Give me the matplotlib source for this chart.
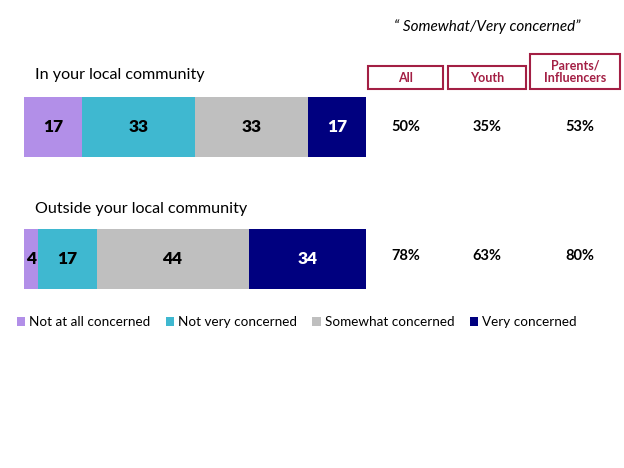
import numpy as np
import matplotlib.pyplot as plt
from matplotlib.patches import Rectangle, Patch

plt.rcParams['font.family'] = ['Lato', 'DejaVu Sans']

# data
rows = ['In your local community', 'Outside your local community']
series = ['Not at all concerned', 'Not very concerned', 'Somewhat concerned', 'Very concerned']
values = [[17, 33, 33, 17],
          [4, 17, 44, 34]]
groups = ['All', 'Youth', 'Parents/\nInfluencers']
concerned = [['50%', '35%', '53%'],
             ['78%', '63%', '80%']]
colors = ['#B28FE8', '#3FB8D0', '#BFBFBF', '#00007F']
label_colors = ['black', 'black', 'black', 'white']

W, H = 624, 468
fig = plt.figure(figsize=(W / 100, H / 100), dpi=100)


def fx(x):
    return x / W


def fy(y):
    return 1 - y / H


ax = fig.add_axes([fx(24), fy(289), fx(366) - fx(24), fy(97) - fy(289)])
vals = np.array(values, dtype=float)
pct = vals / vals.sum(axis=1, keepdims=True) * 100
left = np.zeros(len(rows))
ypos = np.arange(len(rows))
for j, s in enumerate(series):
    ax.barh(ypos, pct[:, j], left=left, height=0.456, color=colors[j], label=s)
    for i in range(len(rows)):
        ax.text(left[i] + pct[i, j] / 2, ypos[i], str(values[i][j]), ha='center', va='center',
                fontsize=12.5, fontweight='heavy', color=label_colors[j])
    left += pct[:, j]
ax.set_xlim(0, 100)
ax.set_ylim(1.228, -0.228)
ax.axis('off')

# row titles
row_title_y = [75, 209]
for r, ty in zip(rows, row_title_y):
    fig.text(fx(35), fy(ty), r, ha='left', va='center', fontsize=11.6)

# header
fig.text(fx(487), fy(27), '\u201c Somewhat/Very concerned\u201d', ha='center', va='center',
         fontsize=11, style='italic')

# group boxes
boxes = [(368, 66, 75, 23), (448, 66, 78, 23), (530, 54, 90, 35)]
col_x = [406, 487, 580]
for g, (bx, by, bw, bh), cx in zip(groups, boxes, col_x):
    fig.patches.append(Rectangle((fx(bx), fy(by + bh)), bw / W, bh / H, transform=fig.transFigure,
                                 fill=False, edgecolor='#A31F44', linewidth=1.5))
    fig.text(fx(bx + bw / 2), fy(by + bh / 2), g, ha='center', va='center', fontsize=9,
             fontweight='bold', color='#A31F44', linespacing=1.1)

# values per group
row_val_y = [127, 256]
for i, vy in enumerate(row_val_y):
    for k, cx in enumerate(col_x):
        fig.text(fx(cx), fy(vy), concerned[i][k], ha='center', va='center', fontsize=10.5,
                 fontweight='bold')

handles = [Patch(facecolor=c, label=s) for c, s in zip(colors, series)]
fig.legend(handles=handles, loc='center left', bbox_to_anchor=(fx(17), fy(322)), ncol=4,
           frameon=False, fontsize=9.7, handlelength=0.6, handleheight=0.6, handletextpad=0.3,
           columnspacing=1.15, borderaxespad=0, borderpad=0)

fig.savefig('out.png', dpi=100)
